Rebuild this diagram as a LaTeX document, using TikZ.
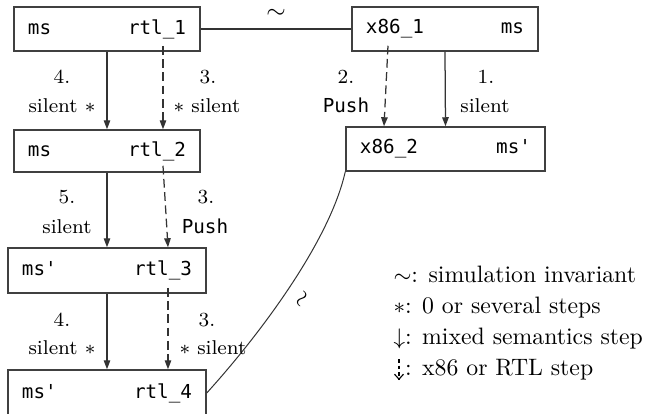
\documentclass[tikz,border=0pt]{standalone}
\usepackage{fontspec}
\setmonofont{DejaVu Sans Mono}
\usetikzlibrary{arrows.meta,calc}
\begin{document}
\begin{tikzpicture}[x=0.4pt,y=-0.4pt,
  box/.style={draw=black!75,line width=0.6pt,inner xsep=5.6pt,inner ysep=0pt,font=\fontsize{7.7}{9}\ttfamily},
  lbl/.style={font=\fontsize{8}{9.6}\selectfont,inner sep=0pt},
  mono/.style={font=\fontsize{7.7}{9}\ttfamily,inner sep=0pt},
  sarrow/.style={draw=black!80,line width=0.5pt,-{Triangle[length=3.6pt,width=2.6pt]}},
  darrow/.style={sarrow,dash pattern=on 3.5pt off 1.8pt},
  link/.style={draw=black!80,line width=0.5pt},
  leg/.style={font=\fontsize{9.5}{11.4}\selectfont,anchor=base west,inner sep=0pt}]
\useasboundingbox (0,0) rectangle (649,414);

% boxes
\node[box,text width=63.2pt,minimum height=17.6pt] (b1) at (107,29) {ms\hfill rtl\_1};
\node[box,text width=63.2pt,minimum height=17.6pt] (x1) at (445,29) {x86\_1\hfill ms};
\node[box,text width=63.2pt,minimum height=16.8pt] (b2) at (107,151) {ms\hfill rtl\_2};
\node[box,text width=68.4pt,minimum height=17.6pt] (x2) at (445.5,149) {x86\_2\hfill ms'};
\node[box,text width=68pt,minimum height=18pt] (b3) at (107,270.5) {ms'\hfill rtl\_3};
\node[box,text width=68pt,minimum height=18.4pt] (b4) at (107,393) {ms'\hfill rtl\_4};

% simulation links
\draw[link] (b1.east) -- node[midway,anchor=base,yshift=4.3pt,inner sep=0pt,font=\fontsize{10}{12}\selectfont] (sim1) {$\sim$} (x1.west);
\draw[link,line width=0.4pt] (x2.south west) .. controls (330,240) and (262,332) .. (b4.east);
\node[rotate=60,inner sep=0pt,font=\fontsize{9}{11}\selectfont] (sim2) at (303,300) {$\sim$};

% mixed-semantics steps
\draw[sarrow] (b1.south) -- (b2.north);
\draw[sarrow] (b2.south) -- (b3.north);
\draw[sarrow] (b3.south) -- (b4.north);
\draw[sarrow] (x1.south) -- (x2.north);

% x86 / RTL steps
\coordinate (d1s) at ($(b1.south)+(56,-6)$);
\coordinate (d1e) at ($(b2.north)+(56,0)$);
\coordinate (d2s) at ($(b2.south)+(56,-7)$);
\coordinate (d2e) at ($(b3.north)+(61,0)$);
\coordinate (d3s) at ($(b3.south)+(61,-6)$);
\coordinate (d3e) at ($(b4.north)+(61,0)$);
\coordinate (dxs) at ($(x1.south)+(-57,-6)$);
\coordinate (dxe) at ($(x2.north)+(-61.5,0)$);
\draw[darrow] (d1s) -- (d1e);
\draw[darrow] (d2s) -- (d2e);
\draw[darrow] (d3s) -- (d3e);
\draw[darrow] (dxs) -- (dxe);

% labels
\node[lbl] (l1a) at (62,77) {4.};
\node[lbl] (l1b) at (62,106) {silent $\ast$};
\node[lbl] (r1a) at (208,77) {3.};
\node[lbl] (r1b) at (207,106) {$\ast$ silent};
\node[lbl] (xla) at (346,77) {2.};
\node[mono] (xlb) at (346,105) {Push};
\node[lbl] (xra) at (486,77) {1.};
\node[lbl] (xrb) at (485,106) {silent};
\node[lbl] (l2a) at (67,197) {5.};
\node[lbl] (l2b) at (67,227) {silent};
\node[lbl] (r2a) at (206,197) {3.};
\node[mono] (r2b) at (205,226) {Push};
\node[lbl] (l3a) at (62,320) {4.};
\node[lbl] (l3b) at (62,348) {silent $\ast$};
\node[lbl] (r3a) at (207,320) {3.};
\node[lbl] (r3b) at (213,348) {$\ast$ silent};

% legend
\node[leg] (lg1) at (393,282) {$\sim$: simulation invariant};
\node[leg] (lg2) at (393,313) {$\ast$: 0 or several steps};
\node[leg] (lg3) at (393,344) {$\downarrow$: mixed semantics step};
\node[leg] (lg4) at (393,375) {\phantom{$\downarrow$}: x86 or RTL step};
\coordinate (lda) at (399,359);
\coordinate (ldb) at (399,380);
\draw[line width=0.45pt,dash pattern=on 1.5pt off 1.1pt,-{Straight Barb[length=2pt,width=3.6pt]}] (lda) -- (ldb);
\end{tikzpicture}
\end{document}
